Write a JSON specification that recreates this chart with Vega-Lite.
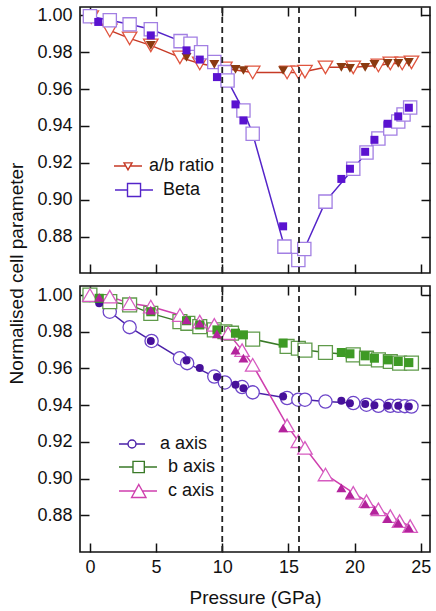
{
  "$schema": "https://vega.github.io/schema/vega-lite/v6.json",
  "padding": {"left": 7, "top": 5, "right": 5, "bottom": 3},
  "bounds": "flush",
  "spacing": 13,
  "resolve": {
    "scale": {"color": "independent", "stroke": "independent", "fill": "independent", "shape": "independent", "size": "independent"},
    "legend": {"color": "independent", "stroke": "independent", "fill": "independent", "shape": "independent", "size": "independent"}
  },
  "config": {
    "font": "Liberation Sans",
    "view": {"stroke": "#111", "strokeWidth": 1.6},
    "axis": {"grid": false, "domain": false, "ticks": true, "tickSize": 9, "tickColor": "#111", "tickWidth": 1.5,
      "labelFont": "Liberation Sans", "labelFontSize": 18, "labelColor": "#111",
      "titleFont": "Liberation Sans", "titleFontSize": 19, "titleFontWeight": "normal", "titleColor": "#111"}
  },
  "datasets": {
    "vlines": [{"P": 10.0}, {"P": 15.8}],
    "topOpen": [
      {"series": "a/b ratio", "P": 0.1, "V": 0.999},
      {"series": "a/b ratio", "P": 1.5, "V": 0.9918},
      {"series": "a/b ratio", "P": 3.0, "V": 0.9875},
      {"series": "a/b ratio", "P": 4.6, "V": 0.9837},
      {"series": "a/b ratio", "P": 6.8, "V": 0.9772},
      {"series": "a/b ratio", "P": 8.3, "V": 0.9739},
      {"series": "a/b ratio", "P": 10.2, "V": 0.9712},
      {"series": "a/b ratio", "P": 12.3, "V": 0.969},
      {"series": "a/b ratio", "P": 14.9, "V": 0.969},
      {"series": "a/b ratio", "P": 15.75, "V": 0.969},
      {"series": "a/b ratio", "P": 16.25, "V": 0.9695},
      {"series": "a/b ratio", "P": 17.8, "V": 0.9718},
      {"series": "a/b ratio", "P": 19.9, "V": 0.9718},
      {"series": "a/b ratio", "P": 21.8, "V": 0.9728},
      {"series": "a/b ratio", "P": 22.7, "V": 0.9739},
      {"series": "a/b ratio", "P": 23.6, "V": 0.9739},
      {"series": "a/b ratio", "P": 24.3, "V": 0.9745},
      {"series": "Beta", "P": 0.0, "V": 0.9995},
      {"series": "Beta", "P": 1.5, "V": 0.9973},
      {"series": "Beta", "P": 3.0, "V": 0.9951},
      {"series": "Beta", "P": 4.6, "V": 0.9924},
      {"series": "Beta", "P": 6.85, "V": 0.986},
      {"series": "Beta", "P": 7.6, "V": 0.9846},
      {"series": "Beta", "P": 8.4, "V": 0.98},
      {"series": "Beta", "P": 9.4, "V": 0.9747},
      {"series": "Beta", "P": 10.2, "V": 0.9692},
      {"series": "Beta", "P": 10.4, "V": 0.9647},
      {"series": "Beta", "P": 11.6, "V": 0.9484},
      {"series": "Beta", "P": 12.3, "V": 0.9358},
      {"series": "Beta", "P": 14.7, "V": 0.8746},
      {"series": "Beta", "P": 15.75, "V": 0.8673},
      {"series": "Beta", "P": 16.2, "V": 0.8733},
      {"series": "Beta", "P": 17.8, "V": 0.899},
      {"series": "Beta", "P": 19.9, "V": 0.9168},
      {"series": "Beta", "P": 20.9, "V": 0.9256},
      {"series": "Beta", "P": 21.8, "V": 0.9332},
      {"series": "Beta", "P": 22.7, "V": 0.9386},
      {"series": "Beta", "P": 23.3, "V": 0.9424},
      {"series": "Beta", "P": 23.7, "V": 0.9462},
      {"series": "Beta", "P": 24.2, "V": 0.95}
    ],
    "topFilled": [
      {"series": "a/b ratio", "P": 4.6, "V": 0.9837},
      {"series": "a/b ratio", "P": 7.3, "V": 0.9772},
      {"series": "a/b ratio", "P": 9.4, "V": 0.9734},
      {"series": "a/b ratio", "P": 11.0, "V": 0.9707},
      {"series": "a/b ratio", "P": 11.6, "V": 0.9701},
      {"series": "a/b ratio", "P": 14.6, "V": 0.9701},
      {"series": "a/b ratio", "P": 19.0, "V": 0.9718},
      {"series": "a/b ratio", "P": 19.65, "V": 0.9712},
      {"series": "a/b ratio", "P": 20.8, "V": 0.9718},
      {"series": "a/b ratio", "P": 21.5, "V": 0.9734},
      {"series": "a/b ratio", "P": 22.5, "V": 0.9739},
      {"series": "a/b ratio", "P": 23.3, "V": 0.9739},
      {"series": "a/b ratio", "P": 24.1, "V": 0.9745},
      {"series": "Beta", "P": 0.63, "V": 0.9964},
      {"series": "Beta", "P": 4.6, "V": 0.9891},
      {"series": "Beta", "P": 7.3, "V": 0.981},
      {"series": "Beta", "P": 8.3, "V": 0.976},
      {"series": "Beta", "P": 9.6, "V": 0.9665},
      {"series": "Beta", "P": 11.0, "V": 0.9517},
      {"series": "Beta", "P": 11.6, "V": 0.943},
      {"series": "Beta", "P": 14.6, "V": 0.8856},
      {"series": "Beta", "P": 19.0, "V": 0.9113},
      {"series": "Beta", "P": 19.65, "V": 0.9168},
      {"series": "Beta", "P": 20.8, "V": 0.926},
      {"series": "Beta", "P": 21.5, "V": 0.9325},
      {"series": "Beta", "P": 22.5, "V": 0.9412},
      {"series": "Beta", "P": 23.3, "V": 0.9452},
      {"series": "Beta", "P": 24.1, "V": 0.9499}
    ],
    "botOpen": [
      {"series": "a axis", "P": 0.0, "V": 1.0},
      {"series": "a axis", "P": 1.5, "V": 0.9909},
      {"series": "a axis", "P": 3.0, "V": 0.9825},
      {"series": "a axis", "P": 4.66, "V": 0.975},
      {"series": "a axis", "P": 6.8, "V": 0.9656},
      {"series": "a axis", "P": 7.35, "V": 0.9629},
      {"series": "a axis", "P": 9.4, "V": 0.9556},
      {"series": "a axis", "P": 10.2, "V": 0.9524},
      {"series": "a axis", "P": 11.5, "V": 0.9499},
      {"series": "a axis", "P": 12.3, "V": 0.947},
      {"series": "a axis", "P": 14.9, "V": 0.9439},
      {"series": "a axis", "P": 15.75, "V": 0.943},
      {"series": "a axis", "P": 16.25, "V": 0.943},
      {"series": "a axis", "P": 17.8, "V": 0.942},
      {"series": "a axis", "P": 19.9, "V": 0.9412},
      {"series": "a axis", "P": 20.9, "V": 0.9403},
      {"series": "a axis", "P": 21.8, "V": 0.9397},
      {"series": "a axis", "P": 22.7, "V": 0.9397},
      {"series": "a axis", "P": 23.3, "V": 0.9397},
      {"series": "a axis", "P": 23.8, "V": 0.9395},
      {"series": "a axis", "P": 24.3, "V": 0.9393},
      {"series": "b axis", "P": 0.0, "V": 1.0},
      {"series": "b axis", "P": 1.5, "V": 0.9964},
      {"series": "b axis", "P": 3.0, "V": 0.9946},
      {"series": "b axis", "P": 4.6, "V": 0.99},
      {"series": "b axis", "P": 6.8, "V": 0.9855},
      {"series": "b axis", "P": 7.4, "V": 0.9846},
      {"series": "b axis", "P": 8.3, "V": 0.9828},
      {"series": "b axis", "P": 9.4, "V": 0.981},
      {"series": "b axis", "P": 10.2, "V": 0.98},
      {"series": "b axis", "P": 10.7, "V": 0.9792},
      {"series": "b axis", "P": 12.3, "V": 0.976},
      {"series": "b axis", "P": 14.9, "V": 0.972},
      {"series": "b axis", "P": 15.75, "V": 0.971},
      {"series": "b axis", "P": 16.25, "V": 0.97},
      {"series": "b axis", "P": 17.8, "V": 0.9687},
      {"series": "b axis", "P": 19.9, "V": 0.9674},
      {"series": "b axis", "P": 20.9, "V": 0.9656},
      {"series": "b axis", "P": 21.8, "V": 0.9647},
      {"series": "b axis", "P": 22.7, "V": 0.9638},
      {"series": "b axis", "P": 23.4, "V": 0.9629},
      {"series": "b axis", "P": 24.3, "V": 0.9629},
      {"series": "c axis", "P": 0.0, "V": 1.0},
      {"series": "c axis", "P": 1.5, "V": 0.9991},
      {"series": "c axis", "P": 3.0, "V": 0.9955},
      {"series": "c axis", "P": 4.6, "V": 0.9937},
      {"series": "c axis", "P": 6.8, "V": 0.9891},
      {"series": "c axis", "P": 8.3, "V": 0.9855},
      {"series": "c axis", "P": 9.4, "V": 0.9837},
      {"series": "c axis", "P": 10.45, "V": 0.9792},
      {"series": "c axis", "P": 11.5, "V": 0.97},
      {"series": "c axis", "P": 12.3, "V": 0.962},
      {"series": "c axis", "P": 14.9, "V": 0.929},
      {"series": "c axis", "P": 15.75, "V": 0.9204},
      {"series": "c axis", "P": 16.25, "V": 0.9168},
      {"series": "c axis", "P": 17.8, "V": 0.9023},
      {"series": "c axis", "P": 19.9, "V": 0.8923},
      {"series": "c axis", "P": 20.9, "V": 0.8878},
      {"series": "c axis", "P": 21.8, "V": 0.8833},
      {"series": "c axis", "P": 22.7, "V": 0.8796},
      {"series": "c axis", "P": 23.4, "V": 0.8769},
      {"series": "c axis", "P": 24.2, "V": 0.8742}
    ],
    "botFilled": [
      {"series": "a axis", "P": 0.7, "V": 0.9955},
      {"series": "a axis", "P": 4.6, "V": 0.975},
      {"series": "a axis", "P": 7.3, "V": 0.9643},
      {"series": "a axis", "P": 8.3, "V": 0.9602},
      {"series": "a axis", "P": 9.6, "V": 0.9553},
      {"series": "a axis", "P": 11.0, "V": 0.9511},
      {"series": "a axis", "P": 11.6, "V": 0.9493},
      {"series": "a axis", "P": 14.6, "V": 0.9448},
      {"series": "a axis", "P": 19.0, "V": 0.9424},
      {"series": "a axis", "P": 19.65, "V": 0.9411},
      {"series": "a axis", "P": 20.8, "V": 0.9406},
      {"series": "a axis", "P": 21.5, "V": 0.94},
      {"series": "a axis", "P": 22.5, "V": 0.9397},
      {"series": "a axis", "P": 23.3, "V": 0.9397},
      {"series": "a axis", "P": 24.1, "V": 0.9393},
      {"series": "b axis", "P": 0.7, "V": 0.9982},
      {"series": "b axis", "P": 4.6, "V": 0.9909},
      {"series": "b axis", "P": 7.3, "V": 0.986},
      {"series": "b axis", "P": 8.3, "V": 0.9837},
      {"series": "b axis", "P": 9.6, "V": 0.981},
      {"series": "b axis", "P": 11.0, "V": 0.9792},
      {"series": "b axis", "P": 11.6, "V": 0.9783},
      {"series": "b axis", "P": 14.6, "V": 0.9738},
      {"series": "b axis", "P": 19.0, "V": 0.9687},
      {"series": "b axis", "P": 19.65, "V": 0.968},
      {"series": "b axis", "P": 20.8, "V": 0.9669},
      {"series": "b axis", "P": 21.5, "V": 0.9656},
      {"series": "b axis", "P": 22.5, "V": 0.9647},
      {"series": "b axis", "P": 23.3, "V": 0.9638},
      {"series": "b axis", "P": 24.1, "V": 0.9632},
      {"series": "c axis", "P": 0.7, "V": 0.9987},
      {"series": "c axis", "P": 4.6, "V": 0.9918},
      {"series": "c axis", "P": 7.3, "V": 0.9864},
      {"series": "c axis", "P": 8.3, "V": 0.9846},
      {"series": "c axis", "P": 9.6, "V": 0.9788},
      {"series": "c axis", "P": 11.0, "V": 0.97},
      {"series": "c axis", "P": 11.6, "V": 0.9656},
      {"series": "c axis", "P": 14.6, "V": 0.9276},
      {"series": "c axis", "P": 19.0, "V": 0.895},
      {"series": "c axis", "P": 19.65, "V": 0.8914},
      {"series": "c axis", "P": 20.8, "V": 0.8863},
      {"series": "c axis", "P": 21.5, "V": 0.8827},
      {"series": "c axis", "P": 22.5, "V": 0.8782},
      {"series": "c axis", "P": 23.3, "V": 0.876},
      {"series": "c axis", "P": 24.1, "V": 0.8733}
    ]
  },
  "vconcat": [
    {
      "width": 350,
      "height": 266,
      "resolve": {"axis": {"x": "independent", "y": "independent"}, "scale": {"size": "independent"}},
      "layer": [
        {
          "data": {"name": "topOpen"},
          "mark": {"type": "line", "strokeWidth": 1.5},
          "encoding": {
            "x": {"field": "P", "type": "quantitative", "scale": {"domain": [-0.75, 25.7], "nice": false, "zero": false},
              "axis": {"orient": "bottom", "values": [0, 5, 10, 15, 20, 25], "labels": false, "title": null, "offset": -9, "tickSize": 9}},
            "y": {"field": "V", "type": "quantitative", "scale": {"domain": [0.8603, 1.0045], "nice": false, "zero": false},
              "axis": {"orient": "left", "values": [0.88, 0.9, 0.92, 0.94, 0.96, 0.98, 1.0], "format": ".2f", "offset": -9, "tickSize": 9, "labelPadding": 8,
                "title": "Normalised cell parameter", "titleFontWeight": "normal", "titlePadding": 10, "titleY": 266}},
            "color": {"field": "series", "type": "nominal",
              "scale": {"domain": ["a/b ratio", "Beta"], "range": ["#c63a26", "#5424c9"]},
              "legend": {"orient": "none", "legendX": 39, "legendY": 150, "title": null, "padding": 0,
                "symbolSize": 196, "symbolStrokeWidth": 1.4, "labelFont": "Liberation Sans", "labelFontSize": 18, "labelColor": "#111",
                "labelOffset": 12, "rowPadding": 5,
                "encode": {
                  "symbols": {"update": {
                    "shape": {"signal": "datum.value === 'Beta' ? 'M-1.86,0H-0.07M1.79,0H3.57M-0.07,-0.93H1.79V0.93H-0.07Z' : 'M-2,0H-0.29M0.29,0H2M-0.57,-0.45H0.57L0,0.55Z'"},
                    "fill": {"value": "white"}}},
                  "labels": {"update": {"dx": {"signal": "datum.value === 'Beta' ? 14 : 0"}}}
                }}}
          }
        },
        {
          "data": {"name": "topOpen"},
          "mark": {"type": "point", "filled": true, "fill": "white", "opacity": 1, "strokeWidth": 1.3},
          "encoding": {
            "x": {"field": "P", "type": "quantitative", "axis": null},
            "y": {"field": "V", "type": "quantitative", "axis": null},
            "stroke": {"field": "series", "type": "nominal", "scale": {"domain": ["Beta", "a/b ratio"], "range": ["#a27fe3", "#e0553f"]}, "legend": null},
            "shape": {"field": "series", "type": "nominal", "scale": {"domain": ["Beta", "a/b ratio"], "range": ["square", "triangle-down"]}, "legend": null},
            "size": {"field": "series", "type": "nominal", "scale": {"domain": ["Beta", "a/b ratio"], "range": [175, 210]}, "legend": null}
          }
        },
        {
          "data": {"name": "topFilled"},
          "mark": {"type": "point", "filled": true, "opacity": 1, "strokeWidth": 0},
          "encoding": {
            "x": {"field": "P", "type": "quantitative", "axis": {"orient": "top", "values": [0, 5, 10, 15, 20, 25], "labels": false, "title": null, "offset": -9, "tickSize": 9}},
            "y": {"field": "V", "type": "quantitative", "axis": {"orient": "right", "values": [0.88, 0.9, 0.92, 0.94, 0.96, 0.98, 1.0], "labels": false, "title": null, "offset": -9, "tickSize": 9}},
            "fill": {"field": "series", "type": "nominal", "scale": {"domain": ["Beta", "a/b ratio"], "range": ["#5a12d0", "#8b3a10"]}, "legend": null},
            "shape": {"field": "series", "type": "nominal", "legend": null},
            "size": {"field": "series", "type": "nominal", "scale": {"domain": ["Beta", "a/b ratio"], "range": [64, 100]}, "legend": null}
          }
        },
        {
          "data": {"name": "vlines"},
          "mark": {"type": "rule", "strokeDash": [6, 4], "color": "#222", "strokeWidth": 1.8},
          "encoding": {"x": {"field": "P", "type": "quantitative", "axis": null}}
        }
      ]
    },
    {
      "width": 350,
      "height": 266,
      "resolve": {"axis": {"x": "independent", "y": "independent"}, "scale": {"size": "independent"}},
      "layer": [
        {
          "data": {"name": "botOpen"},
          "mark": {"type": "line", "strokeWidth": 1.5},
          "encoding": {
            "x": {"field": "P", "type": "quantitative", "scale": {"domain": [-0.75, 25.7], "nice": false, "zero": false},
              "axis": {"orient": "bottom", "values": [0, 5, 10, 15, 20, 25], "offset": -9, "tickSize": 9, "labelPadding": 6, "title": "Pressure (GPa)", "titleFontWeight": "normal", "titlePadding": 12}},
            "y": {"field": "V", "type": "quantitative", "scale": {"domain": [0.8601, 1.0049], "nice": false, "zero": false},
              "axis": {"orient": "left", "values": [0.88, 0.9, 0.92, 0.94, 0.96, 0.98, 1.0], "format": ".2f", "offset": -9, "tickSize": 9, "labelPadding": 8, "title": null}},
            "color": {"field": "series", "type": "nominal",
              "scale": {"domain": ["a axis", "b axis", "c axis"], "range": ["#4a20a8", "#3a7a28", "#cf3fae"]},
              "legend": {"orient": "none", "legendX": 43, "legendY": 149, "title": null, "padding": 0,
                "symbolSize": 196, "symbolStrokeWidth": 1.4, "labelFont": "Liberation Sans", "labelFontSize": 18, "labelColor": "#111",
                "labelOffset": 19, "rowPadding": 5,
                "encode": {
                  "symbols": {"update": {
                    "shape": {"signal": "datum.value === 'a axis' ? 'M-1.86,0H-0.57M0.57,0H1.86M0.57,0A0.57,0.57 0 1,1 -0.57,0A0.57,0.57 0 1,1 0.57,0Z' : datum.value === 'b axis' ? 'M-1.86,0H0.14M1.76,0H3.57M0.14,-0.81H1.76V0.81H0.14Z' : 'M-1.86,0H0.46M1.48,0H3.57M0.97,-0.93L2.0,0.93L-0.06,0.93Z'"},
                    "fill": {"value": "white"}}},
                  "labels": {"update": {"dx": {"signal": "datum.value === 'a axis' ? 0 : 8"}}}
                }}}
          }
        },
        {
          "data": {"name": "botOpen"},
          "mark": {"type": "point", "filled": true, "fill": "white", "opacity": 1, "strokeWidth": 1.3},
          "encoding": {
            "x": {"field": "P", "type": "quantitative", "axis": null},
            "y": {"field": "V", "type": "quantitative", "axis": null},
            "stroke": {"field": "series", "type": "nominal", "scale": {"domain": ["c axis", "b axis", "a axis"], "range": ["#d65bc0", "#5f9a4a", "#6d45c9"]}, "legend": null},
            "shape": {"field": "series", "type": "nominal", "scale": {"domain": ["c axis", "b axis", "a axis"], "range": ["triangle-up", "square", "circle"]}, "legend": null},
            "size": {"field": "series", "type": "nominal", "scale": {"domain": ["c axis", "b axis", "a axis"], "range": [210, 175, 140]}, "legend": null}
          }
        },
        {
          "data": {"name": "botFilled"},
          "mark": {"type": "point", "filled": true, "opacity": 1, "strokeWidth": 0},
          "encoding": {
            "x": {"field": "P", "type": "quantitative", "axis": {"orient": "top", "values": [0, 5, 10, 15, 20, 25], "labels": false, "title": null, "offset": -9, "tickSize": 9}},
            "y": {"field": "V", "type": "quantitative", "axis": {"orient": "right", "values": [0.88, 0.9, 0.92, 0.94, 0.96, 0.98, 1.0], "labels": false, "title": null, "offset": -9, "tickSize": 9}},
            "fill": {"field": "series", "type": "nominal", "scale": {"domain": ["c axis", "b axis", "a axis"], "range": ["#b3239c", "#3e9a25", "#46109a"]}, "legend": null},
            "shape": {"field": "series", "type": "nominal", "legend": null},
            "size": {"field": "series", "type": "nominal", "scale": {"domain": ["c axis", "b axis", "a axis"], "range": [100, 64, 55]}, "legend": null}
          }
        },
        {
          "data": {"name": "vlines"},
          "mark": {"type": "rule", "strokeDash": [6, 4], "color": "#222", "strokeWidth": 1.8},
          "encoding": {"x": {"field": "P", "type": "quantitative", "axis": null}}
        }
      ]
    }
  ]
}
